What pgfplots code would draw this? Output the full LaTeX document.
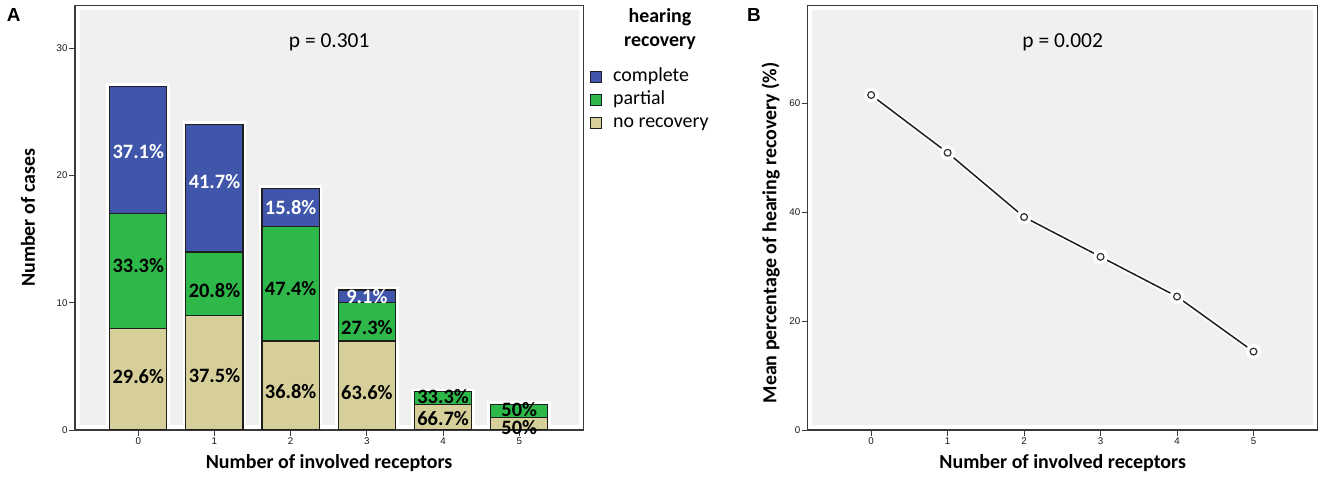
\documentclass[border=0pt]{standalone}
\usepackage{fontspec}
\usepackage{pgfplots}
\pgfplotsset{compat=1.18}
\setmainfont{Carlito}
\newfontfamily\arialfont{Liberation Sans}
\definecolor{cblue}{HTML}{3F56AB}
\definecolor{cgreen}{HTML}{2FB84A}
\definecolor{cbeige}{HTML}{D6CF9A}
\definecolor{bgc}{HTML}{F0F0F0}
\definecolor{framec}{HTML}{3A3A3A}
\definecolor{barline}{HTML}{1E1E1E}
\pgfplotsset{
  common/.style={
    scale only axis, height=424.3bp,
    xmin=-0.83, xmax=5.84, ymin=0,
    /pgf/number format/assume math mode=true,
    axis line style={framec, line width=1.1bp},
    tick style={framec, line width=0.9bp},
    major tick length=6bp,
    tick align=outside,
    xtick pos=left, ytick pos=left,
    xtick={0,...,5},
    minor tick num=0,
    ticklabel style={font=\arialfont\fontsize{9.8}{11}\selectfont, text=black!90},
    xticklabel style={inner sep=1.5bp},
    yticklabel style={inner sep=1.2bp},
    label style={font=\bfseries\fontsize{20}{24}\selectfont},
    xlabel style={at={(axis description cs:0.5,-0.0903)}, anchor=base},
  },
  paneA/.style={common, at={(75bp,49bp)}, anchor=south west, width=508.3bp, ymax=33.36},
  sqlegend/.style={legend image code/.code={\draw[##1, draw=barline, line width=0.8bp] (0bp,-5.5bp) rectangle (11bp,5.5bp);}},
  pctlabel/.style={draw=none, mark=none, nodes near coords, point meta=explicit symbolic,
     every node near coord/.append style={font=\bfseries\fontsize{20.5}{24}\selectfont, text=#1, anchor=center, inner sep=0pt}},
}
\begin{document}
\begin{tikzpicture}
\path[use as bounding box] (0,0) rectangle (1325bp,479bp);
% ---------- Panel A: background and halos
\begin{axis}[paneA, hide axis]
  \fill[bgc] ([shift={(4.5bp,4.5bp)}]rel axis cs:0,0) rectangle ([shift={(-4.5bp,-4.5bp)}]rel axis cs:1,1);
  \addplot[ybar, bar width=0.75, bar shift=0pt, draw=white, fill=white, line width=6.5bp]
    coordinates {(0,27) (1,24) (2,19) (3,11) (4,3) (5,2)};
\end{axis}
% ---------- Panel A: stacked bars
\begin{axis}[paneA, ybar stacked, bar width=0.75,
  ytick={0,10,20,30},
  xlabel={Number of involved receptors},
  ylabel={Number of cases},
  ylabel style={at={(axis description cs:-0.0787,0.5)}, anchor=base},
  reverse legend, legend cell align=left,
  legend style={at={(axis description cs:1.0138,0.8597)}, anchor=north west,
    draw=none, fill=none, inner sep=0pt, outer sep=0pt,
    font=\fontsize{20}{23}\selectfont, row sep=0pt,
    nodes={inner sep=2bp, text height=14bp, text depth=5bp},
    /tikz/every odd column/.style={column sep=9bp}},
  ]
  \addplot[fill=cbeige, draw=barline, line width=1.2bp, sqlegend]
    coordinates {(0,8) (1,9) (2,7) (3,7) (4,2) (5,1)};
  \addplot[fill=cgreen, draw=barline, line width=1.2bp, sqlegend]
    coordinates {(0,9) (1,5) (2,9) (3,3) (4,1) (5,1)};
  \addplot[fill=cblue, draw=barline, line width=1.2bp, sqlegend]
    coordinates {(0,10) (1,10) (2,3) (3,1) (4,0) (5,0)};
  \legend{no recovery, partial, complete}
\end{axis}
% ---------- Panel A: percentage labels
\begin{axis}[paneA, hide axis, clip=false]
  \addplot[pctlabel=white] coordinates {(0,21.9) [37.1\%] (1,19.5) [41.7\%] (2,17.5) [15.8\%] (3,10.5) [9.1\%]};
  \addplot[pctlabel=black] coordinates {(0,12.9) [33.3\%] (0,4.2) [29.6\%] (1,10.95) [20.8\%] (1,4.27) [37.5\%]
     (2,11.1) [47.4\%] (2,3.0) [36.8\%] (3,8.07) [27.3\%] (3,2.96) [63.6\%]
     (4,2.62) [33.3\%] (4,0.92) [66.7\%] (5,1.57) [50\%] (5,0.21) [50\%]};
  \node[font=\fontsize{21.5}{24}\selectfont, anchor=base] at (axis description cs:0.5,0.9026) {p = 0.301};
\end{axis}
% legend title
\node[font=\bfseries\fontsize{20}{24}\selectfont, anchor=base] at (660bp,456.3bp) {hearing};
\node[font=\bfseries\fontsize{20}{24}\selectfont, anchor=base] at (660bp,432.3bp) {recovery};
% ---------- Panel B
\begin{axis}[common, at={(807.7bp,49bp)}, anchor=south west, width=510bp, ymax=77.9,
  ytick={0,20,40,60},
  xlabel={Number of involved receptors},
  ylabel={Mean percentage of hearing recovery (\%)},
  ylabel style={at={(axis description cs:-0.0612,0.4646)}, anchor=base},
  ]
  \fill[bgc] ([shift={(4.5bp,4.5bp)}]rel axis cs:0,0) rectangle ([shift={(-4.5bp,-4.5bp)}]rel axis cs:1,1);
  \addplot[white, line width=5bp, mark=*, mark size=5.2bp, mark options={fill=white, draw=white}]
    coordinates {(0,61.5) (1,50.9) (2,39.1) (3,31.8) (4,24.5) (5,14.4)};
  \addplot[black!88, line width=1.5bp, mark=*, mark size=3.4bp, mark options={fill=white, draw=black!80, line width=1.2bp}]
    coordinates {(0,61.5) (1,50.9) (2,39.1) (3,31.8) (4,24.5) (5,14.4)};
  \node[font=\fontsize{21.5}{24}\selectfont, anchor=base] at (axis description cs:0.5,0.9026) {p = 0.002};
\end{axis}
% panel letters
\node[font=\arialfont\bfseries\fontsize{19}{22}\selectfont, anchor=base west, inner sep=0pt] at (6.7bp,457.3bp) {A};
\node[font=\arialfont\bfseries\fontsize{19}{22}\selectfont, anchor=base west, inner sep=0pt] at (747bp,457.3bp) {B};
\end{tikzpicture}
\end{document}
